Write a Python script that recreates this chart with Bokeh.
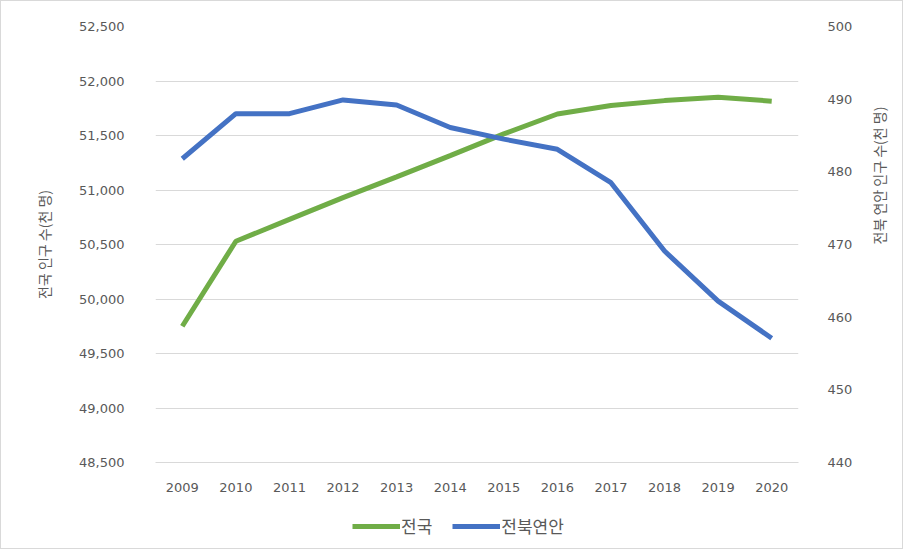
from bokeh.plotting import figure
from bokeh.layouts import column
from bokeh.models import LinearAxis, Range1d, FactorRange, Legend, LegendItem, SingleIntervalTicker, NumeralTickFormatter
from bokeh.embed import file_html
from bokeh.resources import INLINE
import math

years = ["2009", "2010", "2011", "2012", "2013", "2014", "2015", "2016", "2017", "2018", "2019", "2020"]
national = [49750, 50530, 50730, 50930, 51120, 51315, 51515, 51697, 51775, 51820, 51850, 51815]
jeonbuk_coast = [481.8, 488.0, 488.0, 489.9, 489.2, 486.1, 484.5, 483.1, 478.5, 469.1, 462.2, 457.1]

NUMFONT = "'DejaVu Sans', 'Noto Sans CJK KR'"
KFONT = "Noto Sans CJK KR"
GRAY = "#595959"
GREEN = "#70AD47"
BLUE = "#4472C4"

p = figure(width=901, height=500, x_range=FactorRange(*years), y_range=Range1d(48500, 52500),
           output_backend="svg", toolbar_location=None,
           min_border_left=154, min_border_right=102, min_border_top=25, min_border_bottom=39)
p.outline_line_color = None
p.extra_y_ranges = {"right": Range1d(440, 500)}

p.xgrid.grid_line_color = None
p.ygrid.grid_line_color = "#d9d9d9"
p.ygrid.ticker = SingleIntervalTicker(interval=500)

gl = p.line(years, national, line_color=GREEN, line_width=5)
bl = p.line(years, jeonbuk_coast, line_color=BLUE, line_width=5, y_range_name="right")

# left axis
ly = p.yaxis[0]
ly.ticker = SingleIntervalTicker(interval=500)
ly.formatter = NumeralTickFormatter(format="0,0")
ly.axis_line_color = None
ly.major_tick_line_color = None
ly.minor_tick_line_color = None
ly.major_label_standoff = 25
ly.major_label_text_font = NUMFONT
ly.major_label_text_font_size = "13px"
ly.major_label_text_color = GRAY
ly.axis_label = "전국 인구 수(천 명)"
ly.axis_label_text_font = KFONT
ly.axis_label_text_font_size = "14px"
ly.axis_label_text_font_style = "normal"
ly.axis_label_text_color = GRAY
ly.axis_label_standoff = 22

ry = LinearAxis(y_range_name="right", ticker=SingleIntervalTicker(interval=10))
ry.axis_line_color = None
ry.major_tick_line_color = None
ry.minor_tick_line_color = None
ry.major_label_standoff = 23
ry.major_label_text_font = NUMFONT
ry.major_label_text_font_size = "13px"
ry.major_label_text_color = GRAY
ry.axis_label = "전북 연안 인구 수(천 명)"
ry.axis_label_text_font = KFONT
ry.axis_label_text_font_size = "14px"
ry.axis_label_text_font_style = "normal"
ry.axis_label_text_color = GRAY
ry.axis_label_standoff = 24
if "axis_label_orientation" in ry.properties():
    ry.axis_label_orientation = math.pi / 2
p.add_layout(ry, "right")

xa = p.xaxis[0]
xa.axis_line_color = "#d9d9d9"
xa.major_tick_line_color = None
xa.minor_tick_line_color = None
xa.major_label_standoff = 14
xa.major_label_text_font = NUMFONT
xa.major_label_text_font_size = "13px"
xa.major_label_text_color = GRAY

# legend strip below the chart
q = figure(width=901, height=47, x_range=FactorRange(*years), y_range=Range1d(0, 1),
           output_backend="svg", toolbar_location=None, x_axis_type=None, y_axis_type=None,
           min_border=0)
q.outline_line_color = None
q.grid.grid_line_color = None
qg = q.line(years, national, line_color=GREEN, line_width=5)
qb = q.line(years, jeonbuk_coast, line_color=BLUE, line_width=5)
legend = Legend(items=[LegendItem(label="전국", renderers=[qg]), LegendItem(label="전북연안", renderers=[qb])],
                orientation="horizontal", location=(197, 10), border_line_color=None, background_fill_alpha=0,
                label_text_font=KFONT, label_text_font_size="17px", label_text_color=GRAY,
                glyph_width=48, spacing=20, label_standoff=1, margin=0, padding=0)
q.add_layout(legend, "center")

layout = column(p, q, spacing=0)
layout.styles = {"border": "1px solid #d9d9d9"}

open("out.html", "w").write(file_html(layout, INLINE))
